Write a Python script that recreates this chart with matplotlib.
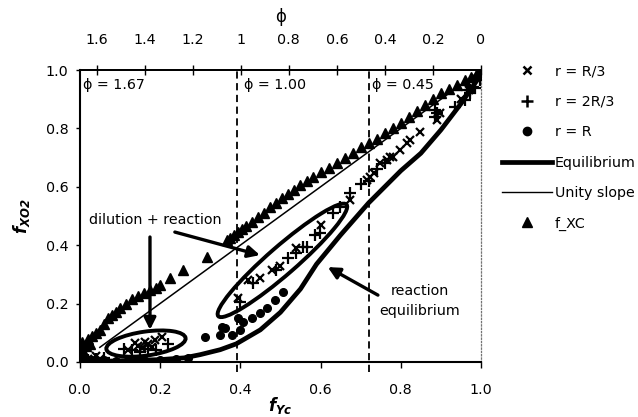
import numpy as np
import matplotlib
matplotlib.use('Agg')
import matplotlib.pyplot as plt
from matplotlib.patches import Ellipse
from matplotlib.transforms import ScaledTranslation
from matplotlib.lines import Line2D

plt.rcParams['font.family'] = ['DejaVu Sans']
plt.rcParams['mathtext.fontset'] = 'custom'
plt.rcParams['mathtext.it'] = 'DejaVu Sans:italic:bold'
plt.rcParams['mathtext.rm'] = 'DejaVu Sans:italic:bold'

# ---------------- data ----------------
# f_XC (triangles)
xc_x = [0.000, 0.002, 0.004, 0.006, 0.010, 0.015, 0.020, 0.025, 0.030, 0.040, 0.050, 0.060,
        0.070, 0.080, 0.090, 0.100, 0.115, 0.130, 0.145, 0.160, 0.175, 0.190, 0.200, 0.224,
        0.257, 0.317, 0.366, 0.375, 0.385, 0.395, 0.405, 0.415, 0.430, 0.445, 0.460, 0.475,
        0.490, 0.505, 0.520, 0.535, 0.550, 0.566, 0.580, 0.600, 0.620, 0.640, 0.660, 0.680,
        0.700, 0.720, 0.740, 0.760, 0.780, 0.800, 0.820, 0.840, 0.860, 0.880, 0.900, 0.920,
        0.940, 0.960, 0.975, 0.990, 1.000]
xc_y = [0.000, 0.020, 0.045, 0.070, 0.030, 0.055, 0.080, 0.060, 0.090, 0.100, 0.110, 0.130,
        0.150, 0.160, 0.170, 0.185, 0.200, 0.215, 0.225, 0.235, 0.245, 0.255, 0.265, 0.288,
        0.315, 0.360, 0.418, 0.425, 0.435, 0.445, 0.455, 0.465, 0.480, 0.495, 0.510, 0.530,
        0.545, 0.560, 0.575, 0.590, 0.605, 0.620, 0.635, 0.650, 0.665, 0.680, 0.700, 0.715,
        0.735, 0.750, 0.765, 0.785, 0.800, 0.820, 0.840, 0.860, 0.880, 0.900, 0.920, 0.935,
        0.950, 0.965, 0.975, 0.990, 1.000]

# r = R/3 (x markers)
r3_x = [0.010, 0.020, 0.030, 0.050, 0.040, 0.120, 0.137, 0.155, 0.162, 0.180, 0.187, 0.204,
        0.170, 0.145, 0.394, 0.419, 0.449, 0.478, 0.500, 0.540, 0.600, 0.673, 0.715, 0.723,
        0.732, 0.748, 0.766, 0.773, 0.781, 0.798, 0.815, 0.823, 0.848, 0.890, 0.898, 0.950, 0.970]
r3_y = [0.005, 0.010, 0.008, 0.010, 0.020, 0.041, 0.065, 0.047, 0.069, 0.052, 0.075, 0.086,
        0.060, 0.055, 0.219, 0.281, 0.288, 0.315, 0.330, 0.390, 0.470, 0.555, 0.623, 0.634,
        0.647, 0.680, 0.692, 0.702, 0.702, 0.726, 0.750, 0.760, 0.788, 0.829, 0.853, 0.900, 0.930]

# r = 2R/3 (+ markers)
r23_x = [0.000, 0.020, 0.040, 0.060, 0.110, 0.130, 0.150, 0.170, 0.190, 0.220, 0.400, 0.432,
         0.490, 0.520, 0.540, 0.557, 0.566, 0.586, 0.599, 0.632, 0.648, 0.673, 0.700, 0.720,
         0.740, 0.760, 0.885, 0.885, 0.890, 0.935, 0.960, 0.965, 0.973, 0.972, 0.980, 0.985, 0.998]
r23_y = [0.000, 0.005, 0.010, 0.015, 0.045, 0.040, 0.035, 0.045, 0.040, 0.060, 0.205, 0.270,
         0.315, 0.356, 0.373, 0.395, 0.394, 0.435, 0.441, 0.510, 0.531, 0.579, 0.610, 0.620,
         0.660, 0.680, 0.840, 0.863, 0.853, 0.873, 0.897, 0.932, 0.932, 0.920, 0.942, 0.938, 0.966]

# r = R (dots)
rR_x = [0.000, 0.010, 0.030, 0.060, 0.090, 0.120, 0.160, 0.200, 0.240, 0.270, 0.312, 0.349,
        0.354, 0.362, 0.379, 0.394, 0.407, 0.449, 0.466, 0.486, 0.506, 0.430, 0.400]
rR_y = [0.000, 0.010, 0.005, 0.008, 0.004, 0.006, 0.008, 0.006, 0.010, 0.012, 0.086, 0.092,
        0.120, 0.116, 0.092, 0.151, 0.137, 0.168, 0.185, 0.212, 0.240, 0.150, 0.110]

# equilibrium curve
eq_x = [0.00, 0.10, 0.20, 0.26, 0.30, 0.35, 0.39, 0.45, 0.50, 0.55, 0.59, 0.65, 0.72,
        0.80, 0.85, 0.90, 0.95, 1.00]
eq_y = [0.000, 0.004, 0.008, 0.014, 0.025, 0.042, 0.062, 0.110, 0.170, 0.250, 0.335, 0.435,
        0.545, 0.655, 0.715, 0.795, 0.885, 0.985]

# unity slope
unity_x = [0.05, 1.0]
unity_y = [0.05, 1.0]

phi_max = 1.67
phi_ticks = [1.6, 1.4, 1.2, 1.0, 0.8, 0.6, 0.4, 0.2, 0.0]
phi_tick_labels = ['1.6', '1.4', '1.2', '1', '0.8', '0.6', '0.4', '0.2', '0']
phi_marks = [0.393, 0.722]
phi_labels = ['\u03d5 = 1.67', '\u03d5 = 1.00', '\u03d5 = 0.45']
phi_label_x = [0.008, 0.409, 0.728]

fig = plt.figure(figsize=(6.38, 4.17), dpi=100)
ax = fig.add_axes([0.125, 0.132, 0.629, 0.700])
fs = 10.3

ax.plot(unity_x, unity_y, color='k', lw=1.1, zorder=2)
ax.plot(eq_x, eq_y, color='k', lw=3.4, solid_capstyle='round', zorder=2)
ax.plot(xc_x, xc_y, ls='none', marker='^', ms=7, color='k', zorder=3)
ax.plot(r3_x, r3_y, ls='none', marker='x', ms=6, mew=1.6, color='k', zorder=3)
ax.plot(r23_x, r23_y, ls='none', marker='+', ms=8, mew=1.6, color='k', zorder=3)
ax.plot(rR_x, rR_y, ls='none', marker='o', ms=5.5, color='k', zorder=3)

for xv in phi_marks:
    ax.axvline(xv, ymin=-0.035, ymax=1, color='k', ls=(0, (4, 2.5)), lw=1.3, clip_on=False)
for lab, xv in zip(phi_labels, phi_label_x):
    ax.text(xv, 0.948, lab, fontsize=fs, va='center', ha='left')

# hand drawn ellipses around the groups (centre in data, size in inches)
ell_cx = [0.165, 0.505]
ell_cy = [0.063, 0.348]
ell_w = [0.80, 1.70]
ell_h = [0.24, 0.28]
ell_ang = [8, 41]
for cx, cy, w, h, a in zip(ell_cx, ell_cy, ell_w, ell_h, ell_ang):
    tr = fig.dpi_scale_trans + ScaledTranslation(cx, cy, ax.transData)
    ax.add_patch(Ellipse((0, 0), w, h, angle=a, transform=tr, fill=False, lw=2.8, color='k'))

arr = dict(arrowstyle='-|>,head_length=0.7,head_width=0.35', lw=2.4, color='k',
           shrinkA=0, shrinkB=0)
ax.text(0.187, 0.486, 'dilution + reaction', fontsize=fs, ha='center', va='center')
ax.annotate('', xy=(0.175, 0.11), xytext=(0.175, 0.428), arrowprops=arr)
ax.annotate('', xy=(0.449, 0.366), xytext=(0.237, 0.445), arrowprops=arr)
ax.text(0.848, 0.209, 'reaction\nequilibrium', fontsize=fs, ha='center', va='center',
        linespacing=1.5)
ax.annotate('', xy=(0.618, 0.325), xytext=(0.743, 0.229), arrowprops=arr)

ax.set_xlim(0, 1)
ax.set_ylim(0, 1)
ticks = [0.0, 0.2, 0.4, 0.6, 0.8, 1.0]
ax.set_xticks(ticks)
ax.set_xticklabels(['%.1f' % t for t in ticks])
ax.set_yticks(ticks)
ax.set_yticklabels(['%.1f' % t for t in ticks])
ax.tick_params(axis='x', direction='out', length=4, width=1, pad=11, labelsize=fs)
ax.tick_params(axis='y', direction='out', length=3, width=1, pad=5, labelsize=fs)
ax.spines['left'].set_linewidth(1.5)
ax.spines['bottom'].set_linewidth(1.5)
ax.spines['top'].set_linewidth(1.3)
ax.spines['right'].set_linestyle(':')
ax.spines['right'].set_color('0.45')
ax.spines['right'].set_linewidth(0.9)

top = ax.secondary_xaxis('top', functions=(lambda f: phi_max * (1 - f),
                                           lambda p: 1 - p / phi_max))
top.set_xticks(phi_ticks)
top.set_xticklabels(phi_tick_labels)
top.tick_params(direction='inout', length=7, width=1, pad=13, labelsize=fs)
top.spines['top'].set_linewidth(1.3)
top.set_xlabel('\u03d5', fontsize=12, labelpad=8)

ax.set_xlabel(r'$f_{Yc}$', fontsize=12, labelpad=-1)
ax.set_ylabel(r'$f_{XO2}$', fontsize=12, labelpad=10)

handles = [
    Line2D([], [], ls='none', marker='x', ms=6, mew=1.8, color='k'),
    Line2D([], [], ls='none', marker='+', ms=8, mew=1.8, color='k'),
    Line2D([], [], ls='none', marker='o', ms=6, color='k'),
    Line2D([], [], color='k', lw=3.4),
    Line2D([], [], color='k', lw=1.0),
    Line2D([], [], ls='none', marker='^', ms=7, color='k'),
]
labels = ['r = R/3', 'r = 2R/3', 'r = R', 'Equilibrium', 'Unity slope', 'f_XC']
fig.legend(handles, labels, loc='upper left', bbox_to_anchor=(0.787, 0.846),
           frameon=False, fontsize=fs, handlelength=3.5, handletextpad=0.2,
           labelspacing=1.15, borderpad=0, borderaxespad=0)

fig.savefig('out.png', dpi=100)
